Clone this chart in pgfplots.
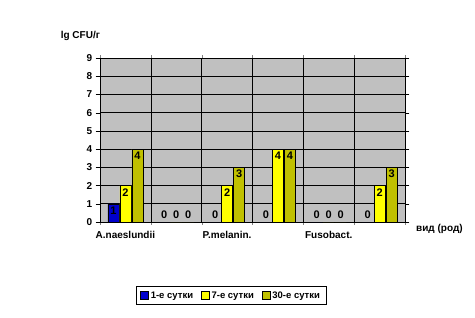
\documentclass[border=0pt]{standalone}
\usepackage{pgfplots}
\pgfplotsset{compat=1.18}
\usepackage{fontspec}
\setmainfont{Liberation Sans}
\definecolor{cblue}{RGB}{0,0,204}
\definecolor{cyel}{RGB}{255,255,0}
\definecolor{colive}{RGB}{192,192,0}
\definecolor{cgray}{RGB}{192,192,192}
\begin{document}
\begin{tikzpicture}
\path[use as bounding box] (-100pt,-95pt) rectangle (375pt,222pt);
\begin{axis}[
  at={(0,0)}, anchor=south west,
  scale only axis, width=305pt, height=164pt,
  xmin=0, xmax=6, ymin=0, ymax=9,
  ybar=1pt, bar width=11pt,
  axis background/.style={fill=cgray},
  axis line style={black},
  ytick={0,...,9},
  ymajorgrids, grid style={black, line width=0.6pt},
  xtick={0.5,2.5,4.5},
  xticklabels={A.naeslundii, P.melanin., Fusobact.},
  minor xtick={0,...,6}, xminorgrids,
  minor grid style={black, line width=0.6pt},
  major x tick style={draw=none},
  tick align=outside,
  ytick style={black},
  font=\bfseries\fontsize{10}{12}\selectfont,
  /pgf/number format/assume math mode=true,
  ticklabel style={font=\bfseries\fontsize{10}{12}\selectfont},
  xticklabel style={yshift=-1pt},
  clip=false,
  nodes near coords,
  visualization depends on={y \as \rawy},
  every node near coord/.append style={font=\fontsize{11}{12}\selectfont\bfseries, anchor=south, yshift={-14*(\rawy>0.5)}},
  legend style={at={(0.43,-0.45)}, anchor=center, legend columns=-1, draw=black, line width=0.8pt, inner ysep=3pt, inner xsep=4pt, font=\bfseries\fontsize{9.5}{11}\selectfont, /tikz/every even column/.append style={column sep=6pt}},
  legend image code/.code={\draw[#1, draw=black, line width=0.5pt] (0pt,-3.5pt) rectangle (8pt,4.5pt);},
]
\addplot[fill=cblue, draw=black] coordinates {(0.5,1) (1.5,0) (2.5,0) (3.5,0) (4.5,0) (5.5,0)};
\addplot[fill=cyel, draw=black] coordinates {(0.5,2) (1.5,0) (2.5,2) (3.5,4) (4.5,0) (5.5,2)};
\addplot[fill=colive, draw=black] coordinates {(0.5,4) (1.5,0) (2.5,3) (3.5,4) (4.5,0) (5.5,3)};
\legend{1-е сутки, 7-е сутки, 30-е сутки}
\node[anchor=west, font=\bfseries\fontsize{10}{12}\selectfont] at (rel axis cs:-0.14,1.134) {lg CFU/г};
\node[anchor=west, font=\bfseries\fontsize{10}{12}\selectfont] at (rel axis cs:1.025,-0.04) {вид (род)};
\end{axis}
\end{tikzpicture}
\end{document}
